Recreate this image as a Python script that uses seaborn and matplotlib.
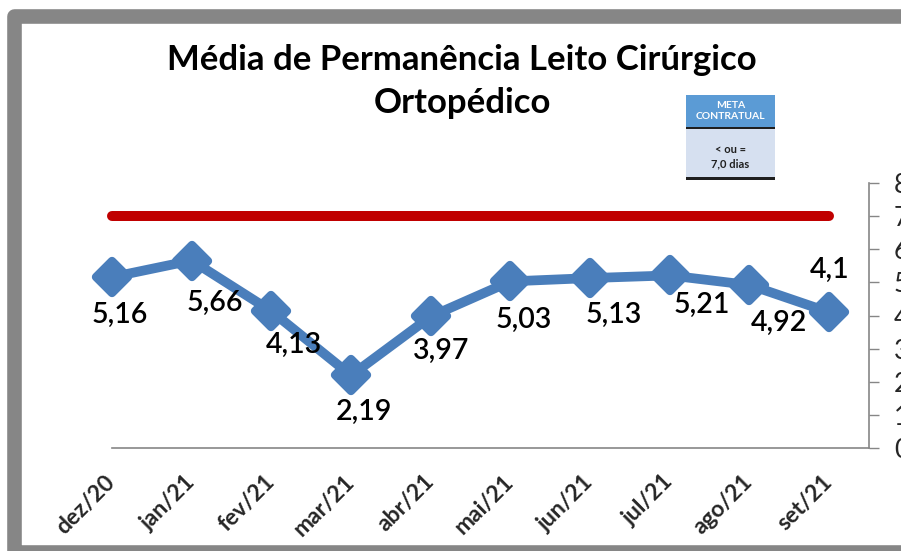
import numpy as np
import pandas as pd
import seaborn as sns
import matplotlib
matplotlib.use("Agg")
import matplotlib.pyplot as plt
from matplotlib.patches import Rectangle
from matplotlib.markers import MarkerStyle

# ---- data ----
months = ["dez/20", "jan/21", "fev/21", "mar/21", "abr/21", "mai/21",
          "jun/21", "jul/21", "ago/21", "set/21"]
media = [5.16, 5.66, 4.13, 2.19, 3.97, 5.03, 5.13, 5.21, 4.92, 4.1]
meta = [7.0, 7.0, 7.0, 7.0, 7.0, 7.0, 7.0, 7.0, 7.0, 7.0]
value_labels = ["5,16", "5,66", "4,13", "2,19", "3,97", "5,03", "5,13", "5,21", "4,92", "4,1"]
y_ticks = [0, 1, 2, 3, 4, 5, 6, 7, 8]
title_lines = ["Média de Permanência Leito Cirúrgico", "Ortopédico"]

# label offsets in pixels (dx right, dy down)
label_offsets = [(8, 38), (23, 42), (23, 34), (13, 36), (10, 34),
                 (13, 39), (24, 37), (32, 30), (30, 38), (0, -42)]

sns.set_theme(style="white")
plt.rcParams["font.family"] = ["Lato", "DejaVu Sans"]

W, H = 901, 551
fig = plt.figure(figsize=(W / 100, H / 100), dpi=100)
fig.patch.set_facecolor("white")

# axes geometry in pixels
ax_left, ax_right, ax_top, ax_bottom = 112, 869, 183, 448
ax = fig.add_axes([ax_left / W, (H - ax_bottom) / H,
                   (ax_right - ax_left) / W, (ax_bottom - ax_top) / H])
ax.set_facecolor("none")

df = pd.DataFrame({"mes": months, "media": media, "meta": meta})
df["pos"] = np.arange(len(months))

blue = "#4A7EBB"
red = "#C00000"

sns.lineplot(data=df, x="pos", y="meta", ax=ax, color=red, linewidth=7.2,
             sort=False, solid_capstyle="round", clip_on=False, zorder=3)
sns.lineplot(data=df, x="pos", y="media", ax=ax, color=blue, linewidth=7,
             sort=False, marker=MarkerStyle("D", joinstyle="round"),
             markersize=16.5, markeredgewidth=6, markeredgecolor=blue,
             markerfacecolor=blue, solid_joinstyle="round",
             clip_on=False, zorder=4)

for i, (v, lab) in enumerate(zip(media, value_labels)):
    dx, dy = label_offsets[i]
    ax.annotate(lab, (i, v), xytext=(dx, -dy), textcoords="offset pixels",
                ha="center", va="center", fontsize=20.5, fontweight="semibold",
                color="black", zorder=6, annotation_clip=False)

ax.set_xlim(0, 9.5)
ax.set_ylim(0, 8)
ax.set_xticks(df["pos"])
ax.set_xticklabels(months, rotation=45, ha="right", va="center",
                   rotation_mode="anchor", fontsize=16.5, fontweight="bold")
ax.set_yticks(y_ticks)
ax.set_yticklabels([str(t) for t in y_ticks], fontsize=19)
ax.yaxis.tick_right()
ax.tick_params(axis="y", which="both", right=True, left=False, length=7,
               width=1, color="#868686", pad=11)
ax.tick_params(axis="x", length=0, pad=22)
ax.set_xlabel("")
ax.set_ylabel("")
for s in ["left", "top"]:
    ax.spines[s].set_visible(False)
for s in ["right", "bottom"]:
    ax.spines[s].set_color("#868686")
    ax.spines[s].set_linewidth(1.2)
ax.grid(False)

# title (two lines)
fig.text(462 / W, 1 - 60 / H, title_lines[0], ha="center", va="center",
         fontsize=25, fontweight="bold", color="black")
fig.text(462 / W, 1 - 103 / H, title_lines[1], ha="center", va="center",
         fontsize=25, fontweight="bold", color="black")

# outer gray frame
fx0, fy_top, fy_bot, fx1 = 14, 15.5, 552, 940
frame = Rectangle((fx0 / W, 1 - fy_bot / H), (fx1 - fx0) / W, (fy_bot - fy_top) / H,
                  transform=fig.transFigure, fill=False, edgecolor="#868686",
                  linewidth=10.5, joinstyle="round", zorder=0)
fig.add_artist(frame)

# meta contratual box
bx0, bx1 = 686, 775
def box(y0, y1, color):
    fig.add_artist(Rectangle((bx0 / W, 1 - y1 / H), (bx1 - bx0) / W, (y1 - y0) / H,
                             transform=fig.transFigure, facecolor=color,
                             edgecolor="none", zorder=5))
box(95, 127, "#5B9BD5")
box(127, 129.5, "#1F1F1F")
box(129.5, 177, "#D6E0F0")
box(177, 180, "#1F1F1F")
cx = (bx0 + bx1) / 2 / W
fig.text(cx, 1 - 111 / H, "META\nCONTRATUAL", ha="center", va="center",
         fontsize=7.5, fontweight="bold", color="white", linespacing=1.15, zorder=6)
fig.text(cx, 1 - 157 / H, "< ou =\n7,0 dias", ha="center", va="center",
         fontsize=8, fontweight="bold", color="#1F1F1F", linespacing=1.4, zorder=6)

fig.savefig("out.png", dpi=100)
